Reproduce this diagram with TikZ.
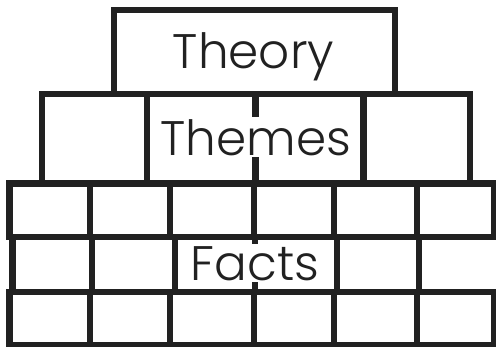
\documentclass[tikz,border=0pt]{standalone}
\usepackage{fontspec}
\setmainfont{Poppins}[UprightFont=* Light]
\begin{document}
\begin{tikzpicture}[x=1pt,y=-1pt,
  brick/.style={draw=black!87, line width=6.5pt},
  word/.style={fill=white, inner sep=2pt, anchor=base, text=black!87,
    font=\fontsize{48.5}{48.5}\selectfont}]
\useasboundingbox (0,0) rectangle (496,346);
% top course
\draw[brick] (114,10) rectangle (395,94);
% middle course
\draw[brick] (42,94) rectangle (470,183.5);
\foreach \x in {147,255.5,363.5} \draw[brick] (\x,94) -- (\x,183.5);
% bottom courses
\draw[brick] (9.5,183.5) rectangle (494.5,237);
\foreach \x in {90,170,254,334,417} \draw[brick] (\x,183.5) -- (\x,237);
\draw[brick] (12.5,237) rectangle (499,292);
\foreach \x in {92,175,255,337,419} \draw[brick] (\x,237) -- (\x,292);
\draw[brick] (9.5,292) rectangle (494.5,345);
\foreach \x in {90,170,254,334,417} \draw[brick] (\x,292) -- (\x,345);
% labels
\node[word] (theory) at (253.5,68) {Theory};
\node[word] (themes) at (256,155) {Themes};
\node[word] (facts) at (255,280) {Facts};
\end{tikzpicture}
\end{document}
